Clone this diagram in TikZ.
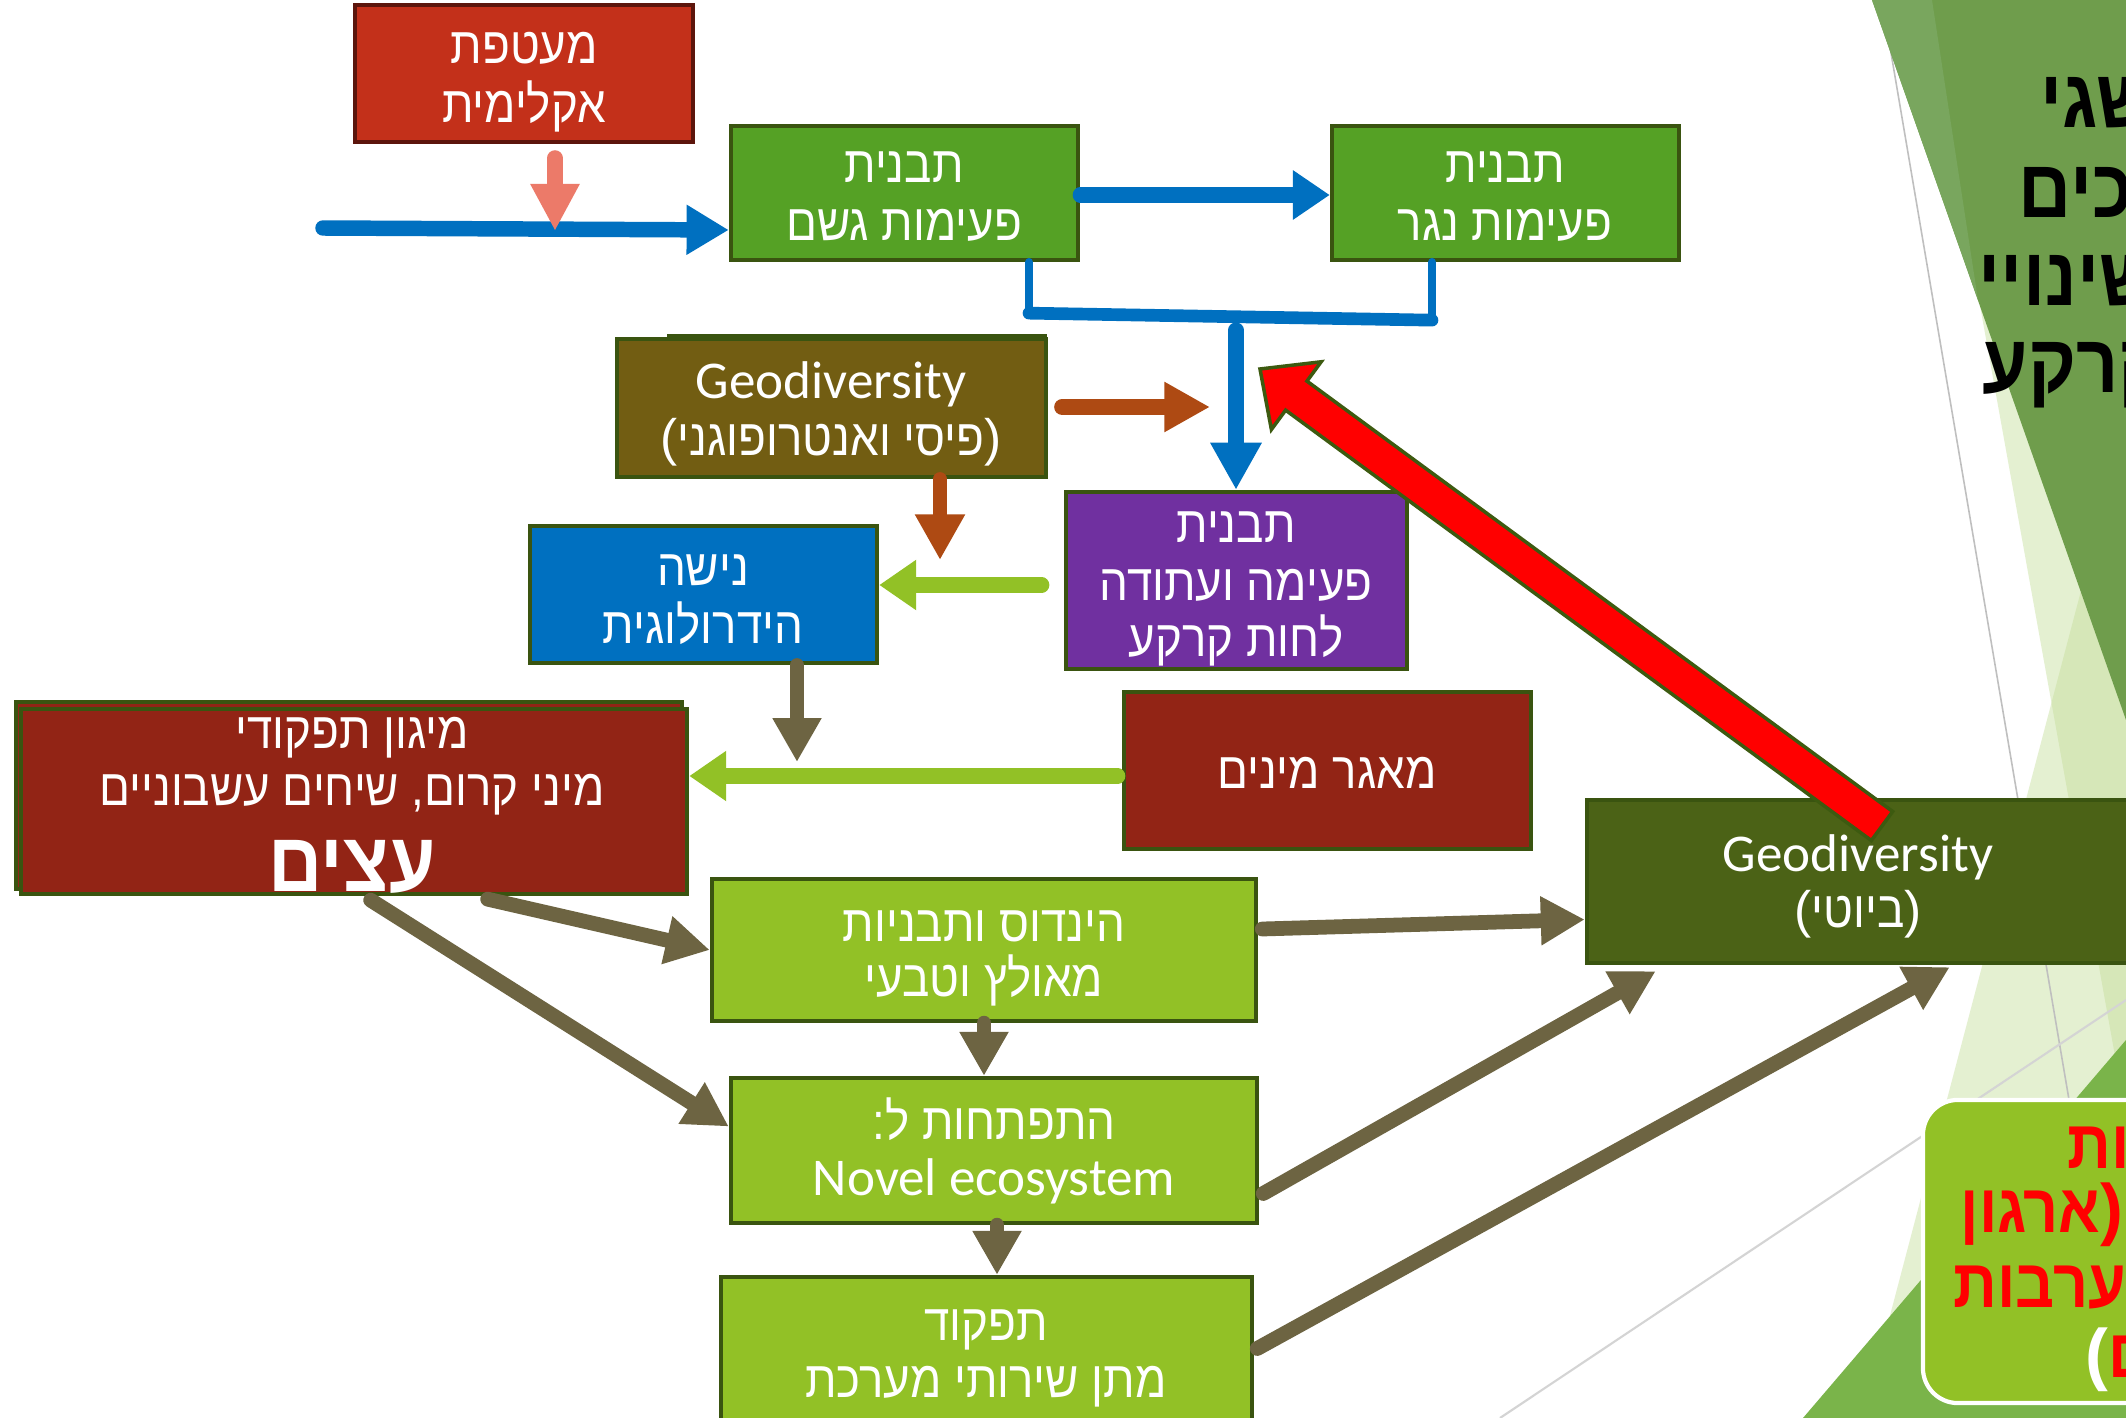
\documentclass[tikz,border=0pt]{standalone}
\usepackage{fontspec}
\setmainfont{Carlito}
\newfontfamily\hebfont[Script=Hebrew, FakeStretch=0.89]{Liberation Sans}
\newfontfamily\parfont{Liberation Sans}
\TeXXeTstate=1
\usetikzlibrary{arrows.meta,calc}
\newcommand{\heb}[1]{{\hebfont\beginR #1\endR}}
\newcommand\boxfont{\fontsize{14.6pt}{17pt}\selectfont}
\newcommand\latfont{\fontsize{15.1pt}{17pt}\selectfont}
\newcommand\titlefont{\fontsize{23.5pt}{28pt}\selectfont\bfseries\hebfont}
\newcommand\redfont{\fontsize{19.5pt}{24pt}\selectfont\bfseries\hebfont}
\newcommand\bigfont{\fontsize{24pt}{28pt}\selectfont\bfseries}
\definecolor{climred}{HTML}{C3301A}
\definecolor{climbord}{HTML}{5C150C}
\definecolor{gr1}{HTML}{55A125}
\definecolor{bord}{HTML}{3A5410}
\definecolor{geobrown}{HTML}{725D12}
\definecolor{hydblue}{HTML}{0070C0}
\definecolor{purp}{HTML}{7030A0}
\definecolor{spred}{HTML}{922415}
\definecolor{lgr}{HTML}{92C126}
\definecolor{biogr}{HTML}{4B6216}
\definecolor{olive}{HTML}{6D6442}
\definecolor{arrblue}{HTML}{0070C0}
\definecolor{rust}{HTML}{AE4A13}
\definecolor{salmon}{HTML}{EC7A69}
\definecolor{darkfacet}{HTML}{6F9D4C}
\definecolor{lightfacet}{HTML}{79A65E}
\definecolor{palefacet}{HTML}{C5DE9A}
\definecolor{greenfacet}{HTML}{7AB44A}
\definecolor{redarrbord}{HTML}{3D5A10}
\tikzset{
  bx/.style={draw=bord, line width=1.2pt, inner sep=0pt},
  tx/.style={inner sep=0pt, anchor=base, text=white, font=\boxfont},
  lt/.style={inner sep=0pt, anchor=base, text=white, font=\latfont},
  ttl/.style={inner sep=0pt, anchor=base west, text=black, font=\titlefont},
  rtx/.style={inner sep=0pt, anchor=base west, text=red, font=\redfont},
  bluearr/.style={draw=arrblue, line width=4.4pt, line cap=round, -{Triangle[length=12pt,width=13.4pt]}},
  blueline/.style={draw=arrblue, line cap=round},
  rustarr/.style={draw=rust, line width=4.6pt, line cap=round, -{Triangle[length=13pt,width=13.4pt]}},
  limearr/.style={draw=lgr, line width=4.3pt, line cap=round, -{Triangle[length=10.5pt,width=13.6pt]}},
  olivearr/.style={draw=olive, line width=4.2pt, line cap=round, -{Triangle[length=12.5pt,width=13.1pt]}},
  salarr/.style={draw=salmon, line width=4.5pt, line cap=round, -{Triangle[length=13.4pt,width=13.1pt]}},
}
\begin{document}
\begin{tikzpicture}[x=0.01cm,y=-0.01cm]
\useasboundingbox (0,0) rectangle (2126,1418);
\clip (0,0) rectangle (2126,1418);
\fill[white] (0,0) rectangle (2126,1418);
% ---- background facets ----
\fill[palefacet, opacity=0.45] (1979,300) -- (2126,1117) -- (2126,300) -- cycle;
\fill[palefacet, opacity=0.45] (2126,420) -- (1863,1418) -- (2126,1418) -- cycle;
\draw[color=black!25, line width=0.45pt] (1882,0) -- (2075,1135);
\draw[color=black!17, line width=0.6pt] (1500,1418) -- (2126,1000);
\fill[darkfacet] (1872,0) -- (2126,0) -- (2126,720) -- cycle;
\fill[lightfacet] (1872,0) -- (1932,0) -- (1978,300) -- cycle;
\fill[greenfacet] (1803,1418) -- (2126,1040) -- (2126,1418) -- cycle;
\node[draw=white, line width=1.2pt, fill=lgr, rounded corners=0.35cm, minimum width=2.4cm, minimum height=3.03cm, inner sep=0pt] (rbox) at (2043,1251.5) {};
% ---- boxes ----
\node[bx, draw=climbord, fill=climred, minimum width=3.38cm, minimum height=1.37cm] (clim) at (524,73.5) {};
\node[bx, fill=gr1, minimum width=3.47cm, minimum height=1.34cm] (rain) at (904.5,193) {};
\node[bx, fill=gr1, minimum width=3.47cm, minimum height=1.34cm] (gully) at (1505.5,193) {};
\node[bx, fill=geobrown, minimum width=3.76cm, minimum height=1.40cm] (geoback) at (857,406) {};
\node[bx, fill=geobrown, minimum width=4.29cm, minimum height=1.38cm] (geo) at (831.5,408) {};
\node[bx, fill=hydblue, minimum width=3.47cm, minimum height=1.37cm] (hydro) at (703.5,594.5) {};
\node[bx, fill=purp, minimum width=3.41cm, minimum height=1.77cm] (purpbox) at (1236.5,580.5) {};
\node[bx, fill=spred, minimum width=6.66cm, minimum height=1.87cm] (spback) at (349,795.5) {};
\node[bx, fill=spred, minimum width=6.66cm, minimum height=1.85cm] (spdiv) at (354,801.5) {};
\node[bx, fill=spred, minimum width=4.07cm, minimum height=1.57cm] (pool) at (1327.5,770.5) {};
\node[bx, fill=lgr, minimum width=5.44cm, minimum height=1.42cm] (eng) at (984,950) {};
\node[bx, fill=lgr, minimum width=5.26cm, minimum height=1.45cm] (novel) at (994,1150.5) {};
\node[bx, fill=lgr, minimum width=5.25cm, minimum height=1.63cm] (funcback) at (983.5,1358.5) {};
\node[bx, fill=lgr, minimum width=5.31cm, minimum height=1.63cm] (func) at (986.5,1358.5) {};
\node[bx, fill=biogr, minimum width=5.42cm, minimum height=1.63cm] (bio) at (1858,881.5) {};
% ---- connectors ----
\coordinate (bin) at (323,228);
\draw[bluearr] (bin) -- ($(rain.west)+(0,37)$);
\coordinate (saltip) at (555,231);
\draw[salarr] ($(clim.south)+(31,14)$) -- (saltip);
\draw[bluearr, -{Triangle[length=10.5pt,width=13.4pt]}, line width=4.3pt] ($(rain.east)+(0,2)$) -- ($(gully.west)+(0,2)$);
\draw[blueline, line width=2.4pt] ($(rain.south)+(124.5,0)$) -- ($(rain.south)+(124.5,51)$);
\draw[blueline, line width=2.4pt] ($(gully.south)+(-73.5,0)$) -- ($(gully.south)+(-73.5,58)$);
\draw[blueline, line width=3.6pt] ($(rain.south)+(124.5,51)$) -- ($(gully.south)+(-73.5,58)$);
\coordinate (bdrop) at (1236,330);
\draw[bluearr, line width=4.3pt, -{Triangle[length=13.4pt,width=13.7pt]}] (bdrop) -- ($(purpbox.north)+(-0.5,0)$);
\coordinate (geotipr) at (1210,407);
\draw[rustarr] ($(geo.east)+(14,-1)$) -- (geotipr);
\coordinate (geotipd) at (940,560);
\draw[rustarr, line width=4pt] ($(geo.south)+(108.5,0)$) -- (geotipd);
\draw[limearr] ($(purpbox.west)+(-22,4.5)$) -- ($(hydro.east)+(0,-9.5)$);
\coordinate (hydtip) at (797,762);
\draw[olivearr, line width=4pt] ($(hydro.south)+(93.5,0)$) -- (hydtip);
\draw[limearr] ($(pool.west)+(-4,5.5)$) -- ($(spdiv.east)+(0,-25.5)$);
\draw[olivearr] ($(spdiv.south west)+(469,3)$) -- (eng.west);
\draw[olivearr] ($(spdiv.south west)+(352,4)$) -- ($(novel.west)+(0,-24)$);
\draw[olivearr] (eng.south) -- ($(novel.north)+(-10,0)$);
\draw[olivearr] ($(novel.south)+(3,0)$) -- ($(func.north)+(10.5,0)$);
\draw[olivearr] ($(eng.east)+(4,-21)$) -- ($(bio.west)+(0,38)$);
\draw[olivearr] ($(novel.east)+(4,43)$) -- ($(bio.south west)+(71,6)$);
\draw[olivearr] ($(func.east)+(3,-10)$) -- ($(bio.south west)+(365,2)$);
% ---- big red arrow ----
\coordinate (redtip) at (1260,369);
\coordinate (redtail) at (1882,826);
\coordinate (rB) at ($(redtip)!0.45cm!(redtail)$);
\coordinate (rb1) at ($(rB)!0.42cm!90:(redtail)$);
\coordinate (rb2) at ($(rB)!0.42cm!-90:(redtail)$);
\coordinate (rs1) at ($(rB)!0.18cm!90:(redtail)$);
\coordinate (rs2) at ($(rB)!0.18cm!-90:(redtail)$);
\coordinate (rt1) at ($(redtail)!0.18cm!-90:(rB)$);
\coordinate (rt2) at ($(redtail)!0.18cm!90:(rB)$);
\draw[fill=red, draw=redarrbord, line width=1pt, line join=miter] (redtip) -- (rb2) -- (rs2) -- (rt2) -- (rt1) -- (rs1) -- (rb1) -- cycle;
% ---- texts ----
\node[tx] (clim1) at (524,64) {\heb{מעטפת}};
\node[tx] (clim2) at (524,122) {\heb{אקלימית}};
\node[tx] (rain1) at (904,182) {\heb{תבנית}};
\node[tx] (rain2) at (904,240) {\heb{פעימות גשם}};
\node[tx] (gully1) at (1505,182) {\heb{תבנית}};
\node[tx] (gully2) at (1505,240) {\heb{פעימות נגר}};
\node[lt] (geo1) at (831,398) {Geodiversity};
\node[tx] (geo2) at (831,455) {\parfont(\heb{פיסי ואנטרופוגני})};
\node[tx] (hydro1) at (703,585) {\heb{נישה}};
\node[tx] (hydro2) at (703,643) {\heb{הידרולוגית}};
\node[tx] (purp1) at (1236,542) {\heb{תבנית}};
\node[tx] (purp2) at (1236,600) {\heb{פעימה ועתודה}};
\node[tx] (purp3) at (1236,656) {\heb{לחות קרקע}};
\node[tx] (sp1) at (352,748) {\heb{מיגון תפקודי}};
\node[tx] (sp2) at (352,805) {\heb{מיני קרום, שיחים עשבוניים}};
\node[tx, font=\bigfont] (sp3) at (352,891) {\heb{עצים}};
\node[tx] (pool1) at (1327,788) {\heb{מאגר מינים}};
\node[tx] (eng1) at (984,941) {\heb{הינדוס ותבניות}};
\node[tx] (eng2) at (984,996) {\heb{מאולץ וטבעי}};
\node[tx] (novel1) at (994,1139) {\heb{התפתחות ל:}};
\node[lt] (novel2) at (994,1195) {Novel ecosystem};
\node[tx] (func1) at (986,1340) {\heb{תפקוד}};
\node[tx] (func2) at (986,1397) {\heb{מתן שירותי מערכת}};
\node[lt] (bio1) at (1858,871) {Geodiversity};
\node[tx] (bio2) at (1858,927) {\parfont(\heb{ביוטי})};
% ---- title (cut at the right edge) ----
\node[ttl] (ti1) at (2040,127) {\heb{שגי}};
\node[ttl] (ti2) at (2018,217) {\heb{כים}};
\node[ttl] (ti3) at (1978,305) {\heb{שינויי}};
\node[ttl] (ti4) at (1982,392) {\heb{קרקע}};
% ---- red text in the rounded box ----
\node[rtx] (rt1n) at (2067,1168) {\heb{ות}};
\node[rtx] (rt2n) at (1960,1232) {\heb{ארגון}{\parfont)}};
\node[rtx] (rt3n) at (1953,1307) {\heb{ערבות}};
\node[rtx] (rt4n) at (2085,1377) {{\parfont\color{white}(}\heb{ם}};
\end{tikzpicture}
\end{document}
